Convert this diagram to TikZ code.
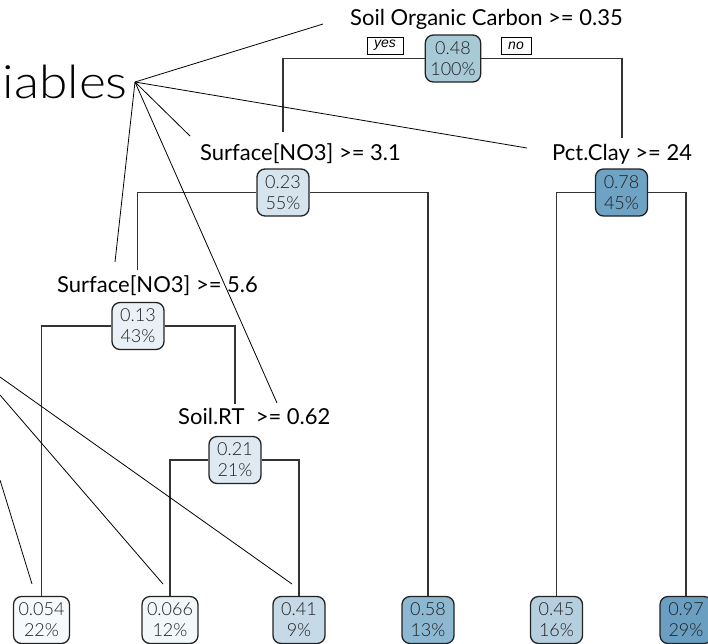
\documentclass[tikz,border=0pt]{standalone}
\usepackage{fontspec}
\setmainfont{Lato}
\newfontfamily\numfont{Lato Light}
\newfontfamily\tagfont{Liberation Sans}

% fill colours of the tree nodes (mean response)
\definecolor{c048}{HTML}{A8CAD7}
\definecolor{c023}{HTML}{D6E4EE}
\definecolor{c078}{HTML}{6FA3C4}
\definecolor{c013}{HTML}{EAF1F6}
\definecolor{c021}{HTML}{DFE9F1}
\definecolor{c054}{HTML}{F6FAFC}
\definecolor{c066}{HTML}{F2F7FA}
\definecolor{c041}{HTML}{C6D9E6}
\definecolor{c058}{HTML}{8CB9D1}
\definecolor{c045}{HTML}{B6CFDF}
\definecolor{c097}{HTML}{6A9FC2}
\definecolor{edgegray}{HTML}{333333}
\definecolor{boxline}{HTML}{222222}
\definecolor{numtext}{HTML}{1E1E1E}

\tikzset{
  splitlabel/.style={font=\fontsize{22}{25}\selectfont, anchor=base west, inner sep=0pt},
  nodebox/.style={draw=boxline, line width=1.3pt, rounded corners=8pt,
    minimum width=52pt, minimum height=47pt, inner xsep=5pt, inner ysep=0pt,
    align=center, text=numtext, font=\numfont\fontsize{18}{21}\selectfont},
  tag/.style={draw, line width=0.8pt, fill=white, inner xsep=0pt, inner ysep=0pt,
    minimum height=17pt, font=\tagfont\itshape\fontsize{14}{14}\selectfont},
  treeedge/.style={draw=edgegray, line width=1.3pt},
  pointer/.style={draw=black, line width=0.8pt},
}

\begin{document}
\begin{tikzpicture}[x=1pt, y=-1pt]
\useasboundingbox (0,0) rectangle (708,643);
\clip (0,0) rectangle (708,643);

% heading and the point its pointers leave from
\node[anchor=base east, inner sep=0pt, font=\numfont\fontsize{46}{46}\selectfont] (title) at (128,98) {\scalebox{1.12}[1]{iables}};
\coordinate (hub) at (135,82);

% split labels
\node[splitlabel] (lroot) at (350,25) {Soil Organic Carbon >= 0.35};
\node[splitlabel] (ln2) at (200,160) {Surface[NO3] >= 3.1};
\node[splitlabel] (lpc) at (552,160) {Pct.Clay >= 24};
\node[splitlabel] (ln56) at (57,292) {Surface[NO3] >= 5.6};
\node[splitlabel] (lsrt) at (178,424) {Soil.RT \ >= 0.62};

% internal nodes
\node[nodebox, fill=c048] (root) at (453,58.5) {0.48\\100\%};
\node[nodebox, fill=c023] (n2) at (283,192.5) {0.23\\55\%};
\node[nodebox, fill=c078] (pc) at (621.5,192.5) {0.78\\45\%};
\node[nodebox, fill=c013] (n56) at (138,326) {0.13\\43\%};
\node[nodebox, fill=c021] (srt) at (235,460) {0.21\\21\%};

% leaves
\node[nodebox, fill=c054] (l1) at (41.5,620) {0.054\\22\%};
\node[nodebox, fill=c066] (l2) at (170,620) {0.066\\12\%};
\node[nodebox, fill=c041] (l3) at (299,620) {0.41\\9\%};
\node[nodebox, fill=c058] (l4) at (428,620) {0.58\\13\%};
\node[nodebox, fill=c045] (l5) at (556.5,620) {0.45\\16\%};
\node[nodebox, fill=c097] (l6) at (686,620) {0.97\\29\%};

% yes / no tags
\node[tag, minimum width=36pt] (yes) at (385,45.5) {yes};
\node[tag, minimum width=30pt] (no) at (516,45.5) {no};

% free ends of the tree edges above the split labels
\coordinate (n2top) at (283,132);
\coordinate (pctop) at (622,138);
\coordinate (n56top) at (137.5,270);
\coordinate (srttop) at (235,404);

% tree edges
\draw[treeedge] (root.west) -| (n2top);
\draw[treeedge] (root.east) -| (pctop);
\draw[treeedge] (n2.west) -| (n56top);
\draw[treeedge] (n2.east) -| (l4.north);
\draw[treeedge] (pc.west) -| (l5.north);
\draw[treeedge] (pc.east) -| (l6.north);
\draw[treeedge] (n56.west) -| (l1.north);
\draw[treeedge] (n56.east) -| (srttop);
\draw[treeedge] (srt.west) -| (l2.north);
\draw[treeedge] (srt.east) -| (l3.north);

% pointers from the heading to the split labels
\coordinate (proot) at (323,24);
\coordinate (ppc) at (527,148);
\coordinate (pn2) at (190,136);
\coordinate (pn56) at (115,262);
\coordinate (psrt) at (277,403);
\draw[pointer] (hub) -- (proot);
\draw[pointer] (hub) -- (ppc);
\draw[pointer] (hub) -- (pn2);
\draw[pointer] (hub) -- (pn56);
\draw[pointer] (hub) -- (psrt);

% pointers coming in from the left to the leaves
\coordinate (ina) at (0,377);
\coordinate (inb) at (0,395);
\coordinate (inc) at (0,480);
\coordinate (pl3) at (292,584);
\coordinate (pl2) at (163,584);
\coordinate (pl1) at (32,584);
\draw[pointer] (ina) -- (pl3);
\draw[pointer] (inb) -- (pl2);
\draw[pointer] (inc) -- (pl1);
\end{tikzpicture}
\end{document}
